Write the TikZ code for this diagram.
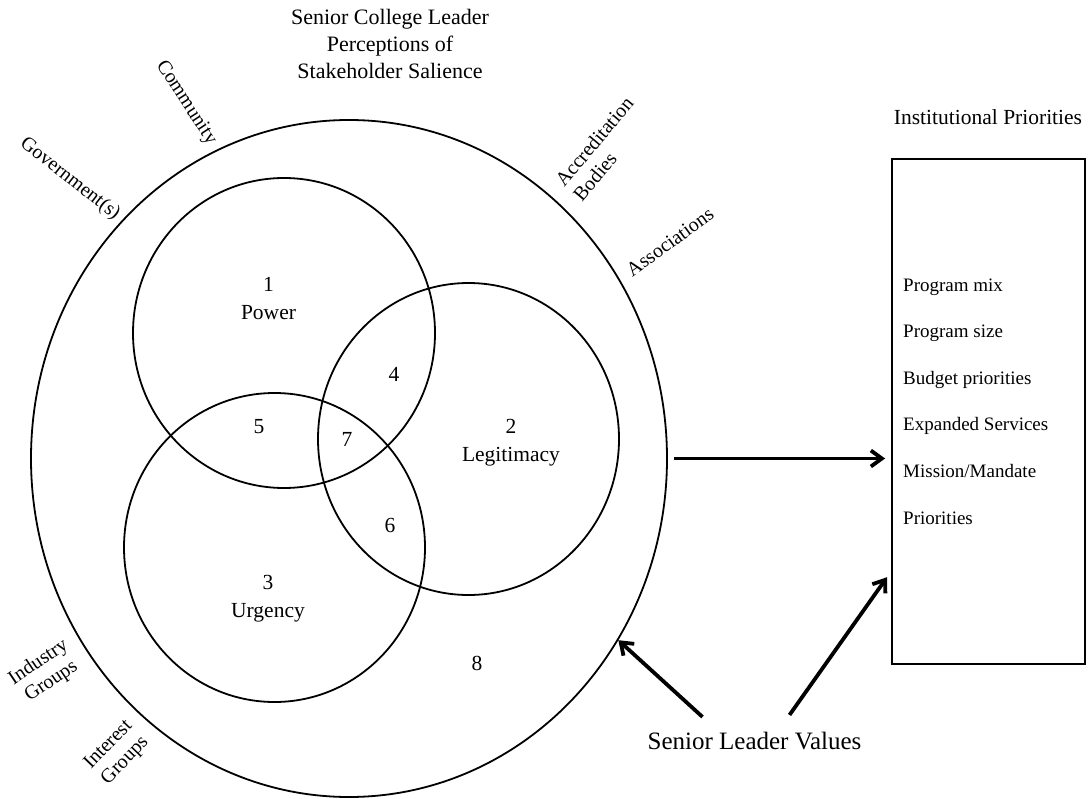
\documentclass[tikz,border=0pt]{standalone}
\usepackage{fontspec}
\setmainfont{Liberation Serif}
\usetikzlibrary{shapes.geometric}
\usetikzlibrary{arrows.meta}
\tikzstyle{ring}=[draw, ellipse, line width=1.8pt, inner sep=0pt]
\tikzstyle{region}=[font=\fontsize{21.5}{28}\selectfont, align=center]
\tikzstyle{holder}=[font=\fontsize{20}{23}\selectfont, inner sep=0pt]
\tikzstyle{item}=[font=\fontsize{19}{22}\selectfont, anchor=base west, inner sep=0pt]
\tikzstyle{push}=[line width=3.8pt, -{Straight Barb[length=11pt,width=16pt]}]

\begin{document}
\begin{tikzpicture}[x=1pt, y=-1pt]
          \useasboundingbox (0,0) rectangle (1091,799);
          % salience rings
          \node[ring, minimum width=636pt, minimum height=677pt] (salience) at (349,458.5) {};
          \node[ring, minimum width=302pt, minimum height=310pt] (power) at (284,333) {};
          \node[ring, minimum width=301pt, minimum height=312pt] (legit) at (468.5,439) {};
          \node[ring, minimum width=301pt, minimum height=309pt] (urgency) at (274.5,547.5) {};
          \node[region, font=\fontsize{22}{27}\selectfont] (title) at (390,44) {Senior College Leader\\Perceptions of\\Stakeholder Salience};
          \node[region] (r1) at (268.5,299) {1\\Power};
          \node[region] (r2) at (511,443) {2\\Legitimacy};
          \node[region] (r3) at (268,599) {3\\Urgency};
          \node[region] (r4) at (394,374) {4};
          \node[region] (r5) at (259,427) {5};
          \node[region] (r6) at (390,525) {6};
          \node[region] (r7) at (347,439) {7};
          \node[region] (r8) at (477,663) {8};
          % stakeholders round the ring
          \node[holder, rotate=-38] (gov) at (70,179) {Government(s)};
          \node[holder, rotate=-57] (comm) at (186,103) {Community};
          \node[holder, rotate=50, align=left] (accr) at (603,149) {Accreditation\\Bodies};
          \node[holder, rotate=36] (assoc) at (670,242) {Associations};
          \node[holder, rotate=34, align=center] (industry) at (45,672) {Industry\\Groups};
          \node[holder, rotate=46, align=center] (interest) at (117,753) {Interest\\Groups};
          % priorities
          \node[font=\fontsize{21.5}{24}\selectfont, inner sep=0pt] (ptitle) at (988,117) {Institutional Priorities};
          \node[draw, line width=1.8pt, minimum width=193pt, minimum height=505pt] (priorities) at (988.5,411.5) {};
          \foreach \txt [count=\i] in {Program mix, Program size, Budget priorities,
              Expanded Services, Mission/Mandate, Priorities}
            \node[item] (item\i) at (903, 291+46.6*\i-46.6) {\txt};
          \node[font=\fontsize{25}{28}\selectfont, inner sep=0pt] (values) at (754.5,741) {Senior Leader Values};
          \draw[push, shorten <=6pt, shorten >=6pt]
            (salience.east) -- (salience.east -| priorities.west);
          \draw[push] ([shift={(-52,-15)}]values.north) -- (salience.-34);
          \draw[push, shorten >=7pt] ([shift={(35,-17)}]values.north) -- ([yshift=-160pt]priorities.west);
        \end{tikzpicture}
\end{document}
